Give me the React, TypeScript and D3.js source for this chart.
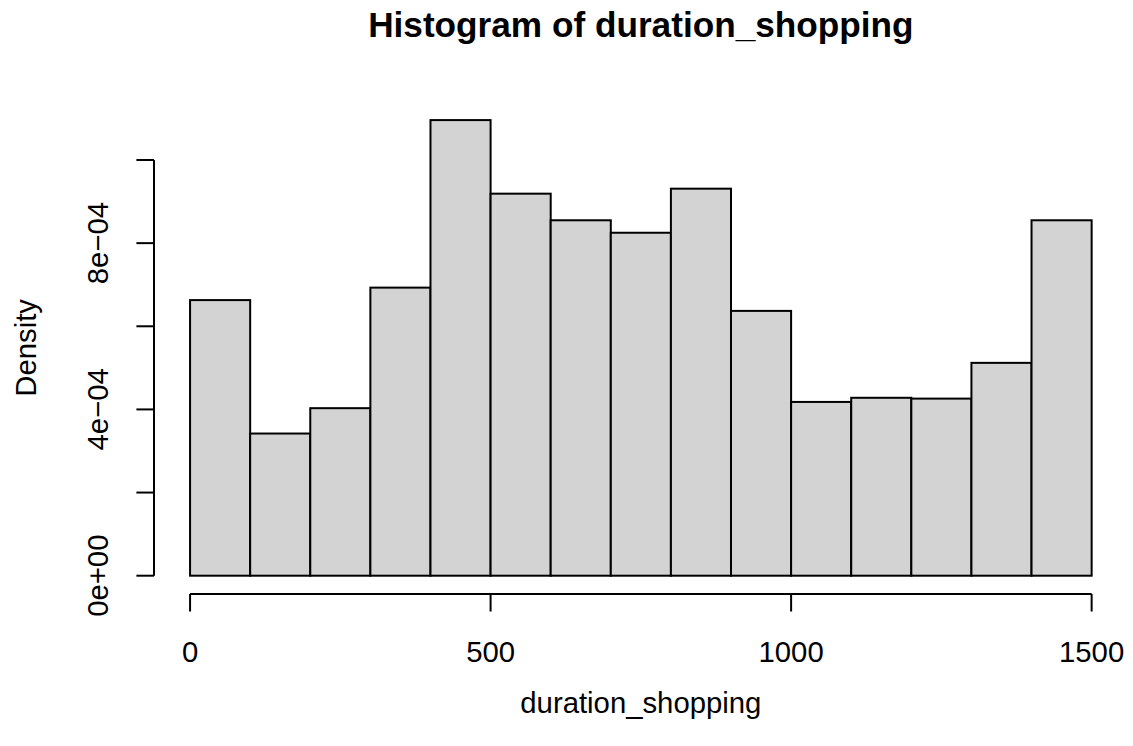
import React from "react";
import * as d3 from "d3";

// Histogram bins (duration_shopping) and their densities
const binStarts = [0, 100, 200, 300, 400, 500, 600, 700, 800, 900, 1000, 1100, 1200, 1300, 1400];
const binWidth = 100;
const densities = [
  6.63e-4, 3.42e-4, 4.03e-4, 6.93e-4, 10.96e-4, 9.19e-4, 8.55e-4, 8.25e-4,
  9.31e-4, 6.37e-4, 4.18e-4, 4.28e-4, 4.26e-4, 5.12e-4, 8.55e-4,
];
const xTicks = [0, 500, 1000, 1500];
const yTicks = [0, 2e-4, 4e-4, 6e-4, 8e-4, 1e-3];
const yTickLabels: Record<string, string> = {
  "0": "0e+00",
  "0.0004": "4e\u221204",
  "0.0008": "8e\u221204",
};

const W = 1133;
const H = 746;
const FONT = "'Liberation Sans', Arial, Helvetica, sans-serif";
const AXIS_FS = 29.3;
const TITLE_FS = 35.2;

export default function App() {
  // Plot region extends 4% past the data on each side
  const x = d3.scaleLinear().domain([-60, 1560]).range([154, 1127.7]);
  const yMax = d3.max(densities) as number;
  const y = d3.scaleLinear().domain([0, 1e-3]).range([575.7, 160]);
  const yLow = -0.04 * yMax;
  const axisY = y(yLow);
  const axisX = x(-60);
  const plotTop = y(yMax * 1.04);
  const cx = (x(-60) + x(1560)) / 2;
  const cy = (axisY + plotTop) / 2;
  const tick = 17.6;
  const lw = 2;

  return (
    <svg
      width={W}
      height={H}
      style={{ position: "absolute", left: 0, top: 0, background: "#fff" }}
      fontFamily={FONT}
    >
      <rect x={0} y={0} width={W} height={H} fill="#fff" />
      {/* bars */}
      <g>
        {binStarts.map((b, i) => (
          <rect
            key={b}
            x={x(b)}
            y={y(densities[i])}
            width={x(b + binWidth) - x(b)}
            height={y(0) - y(densities[i])}
            fill="#D3D3D3"
            stroke="#000"
            strokeWidth={lw}
          />
        ))}
      </g>
      {/* x axis */}
      <g stroke="#000" strokeWidth={lw} fill="none">
        <line x1={x(xTicks[0])} x2={x(xTicks[xTicks.length - 1])} y1={axisY} y2={axisY} />
        {xTicks.map((t) => (
          <line key={t} x1={x(t)} x2={x(t)} y1={axisY} y2={axisY + tick} />
        ))}
      </g>
      {xTicks.map((t) => (
        <text key={t} x={x(t)} y={662} textAnchor="middle" fontSize={AXIS_FS} fill="#000">
          {t}
        </text>
      ))}
      {/* y axis */}
      <g stroke="#000" strokeWidth={lw} fill="none">
        <line x1={axisX} x2={axisX} y1={y(yTicks[0])} y2={y(yTicks[yTicks.length - 1])} />
        {yTicks.map((t) => (
          <line key={t} x1={axisX} x2={axisX - tick} y1={y(t)} y2={y(t)} />
        ))}
      </g>
      {yTicks
        .filter((t) => yTickLabels[String(t)])
        .map((t) => (
          <text
            key={t}
            transform={`translate(108,${y(t)}) rotate(-90)`}
            textAnchor="middle"
            fontSize={AXIS_FS}
            fill="#000"
          >
            {yTickLabels[String(t)]}
          </text>
        ))}
      {/* titles */}
      <text x={cx} y={37} textAnchor="middle" fontSize={TITLE_FS} fontWeight="bold" fill="#000">
        Histogram of duration_shopping
      </text>
      <text x={cx} y={713} textAnchor="middle" fontSize={AXIS_FS} fill="#000">
        duration_shopping
      </text>
      <text
        transform={`translate(36,${cy}) rotate(-90)`}
        textAnchor="middle"
        fontSize={AXIS_FS}
        fill="#000"
      >
        Density
      </text>
    </svg>
  );
}
